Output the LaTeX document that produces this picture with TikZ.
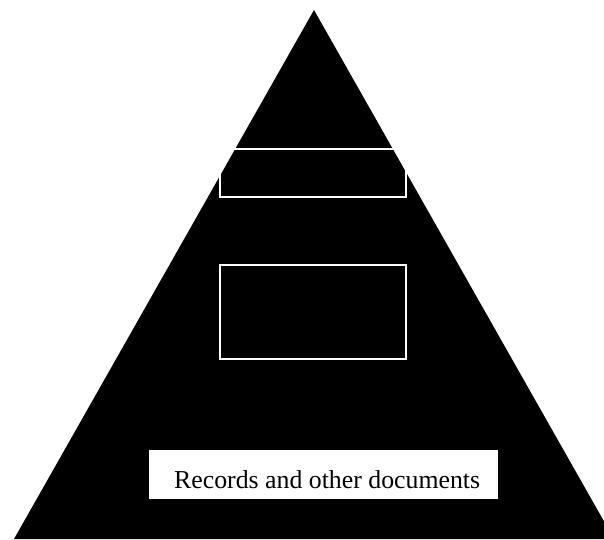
\documentclass[tikz,border=0pt]{standalone}
\usepackage{fontspec}
\setmainfont{Liberation Serif}
\begin{document}
\begin{tikzpicture}[x=1pt,y=-1pt,
  frame/.style={draw=white,line width=1.5pt,inner sep=0pt,minimum width=186pt},
  whitebox/.style={fill=white,inner sep=0pt,minimum width=349pt,minimum height=49pt},
  labeltext/.style={inner sep=0pt,font=\fontsize{25.8}{30}\selectfont}]
\useasboundingbox (0,0) rectangle (604,539);
\begin{scope}
  \clip (0,0) rectangle (604,539);
  \fill[black] (314,10) -- (14,539) -- (614,539) -- cycle;
\end{scope}
\node[frame,minimum height=48pt] (top) at (313,173) {};
\node[frame,minimum height=94pt] (mid) at (313,312) {};
\node[whitebox] (rec) at (323.5,474.5) {};
\node[labeltext,anchor=base west] (rectext) at (174,488) {Records and other documents};
\end{tikzpicture}
\end{document}
